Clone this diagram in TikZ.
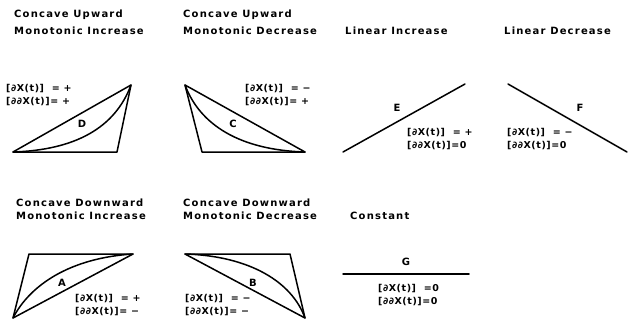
\documentclass[tikz,border=0pt]{standalone}
\usepackage{fontspec}
\newfontfamily\plotfont[LetterSpace=12]{DejaVu Sans Bold}
\newfontfamily\lblfont[LetterSpace=6]{DejaVu Sans Bold}
\begin{document}
\begin{tikzpicture}[x=1pt,y=-1pt,
  ln/.style={line width=1.5pt,line join=round,line cap=round},
  ttl/.style={anchor=west,inner sep=0pt,font=\plotfont\fontsize{10}{12}\selectfont},
  lbl/.style={anchor=north west,inner sep=0pt,align=left,font=\lblfont\fontsize{9.5}{13.5}\selectfont},
  ltr/.style={inner sep=0pt,font=\plotfont\fontsize{10}{12}\selectfont}]
\useasboundingbox (0,0) rectangle (634,321);
% titles
\node[ttl] (t1a) at (14,15) {Concave Upward};
\node[ttl] (t1b) at (14,31) {Monotonic Increase};
\node[ttl] (t2a) at (183,15) {Concave Upward};
\node[ttl] (t2b) at (183,31) {Monotonic Decrease};
\node[ttl] (t3) at (345,31) {Linear Increase};
\node[ttl] (t4) at (504,31) {Linear Decrease};
\node[ttl] (t5a) at (16,203) {Concave Downward};
\node[ttl] (t5b) at (16,216) {Monotonic Increase};
\node[ttl] (t6a) at (183,203) {Concave Downward};
\node[ttl] (t6b) at (183,216) {Monotonic Decrease};
\node[ttl] (t7) at (350,216) {Constant};
% panel D
\coordinate (d1) at (13,152); \coordinate (d2) at (117,152); \coordinate (d3) at (131,85);
\draw[ln] (d1) -- (d2) -- (d3) -- cycle;
\draw[ln] (d1) .. controls (75,150) and (115,128) .. (d3);
\node[ltr] (D) at (82,124) {D};
\node[lbl] (ld) at (6,84) {[∂X(t)]\ \ = +\\{}[∂∂X(t)]= +};
% panel C
\coordinate (c1) at (185,85); \coordinate (c2) at (202,152); \coordinate (c3) at (305,152);
\draw[ln] (c1) -- (c2) -- (c3) -- cycle;
\draw[ln] (c1) .. controls (200,125) and (240,150) .. (c3);
\node[ltr] (C) at (233,124) {C};
\node[lbl] (lc) at (245,84) {[∂X(t)]\ \ = −\\{}[∂∂X(t)]= +};
% panel E
\coordinate (e1) at (343,152); \coordinate (e2) at (465,84);
\draw[ln] (e1) -- (e2);
\node[ltr] (E) at (397,108) {E};
\node[lbl] (le) at (407,128) {[∂X(t)]\ \ = +\\{}[∂∂X(t)]=0};
% panel F
\coordinate (f1) at (508,84); \coordinate (f2) at (627,152);
\draw[ln] (f1) -- (f2);
\node[ltr] (F) at (580,108) {F};
\node[lbl] (lf) at (507,128) {[∂X(t)]\ \ = −\\{}[∂∂X(t)]=0};
% panel A
\coordinate (a1) at (13,318); \coordinate (a2) at (29,254); \coordinate (a3) at (133,254);
\draw[ln] (a1) -- (a2) -- (a3) -- cycle;
\draw[ln] (a1) .. controls (30,285) and (70,258) .. (a3);
\node[ltr] (A) at (62,283) {A};
\node[lbl] (la) at (75,294) {[∂X(t)]\ \ = +\\{}[∂∂X(t)]= −};
% panel B
\coordinate (b1) at (185,254); \coordinate (b2) at (290,254); \coordinate (b3) at (305,318);
\draw[ln] (b1) -- (b2) -- (b3) -- cycle;
\draw[ln] (b1) .. controls (250,256) and (292,282) .. (b3);
\node[ltr] (B) at (253,283) {B};
\node[lbl] (lb) at (185,294) {[∂X(t)]\ \ = −\\{}[∂∂X(t)]= −};
% panel G
\coordinate (g1) at (343,274); \coordinate (g2) at (469,274);
\draw[ln] (g1) -- (g2);
\node[ltr] (G) at (406,262) {G};
\node[lbl] (lg) at (378,284) {[∂X(t)]\ \ =0\\{}[∂∂X(t)]=0};
\end{tikzpicture}
\end{document}
